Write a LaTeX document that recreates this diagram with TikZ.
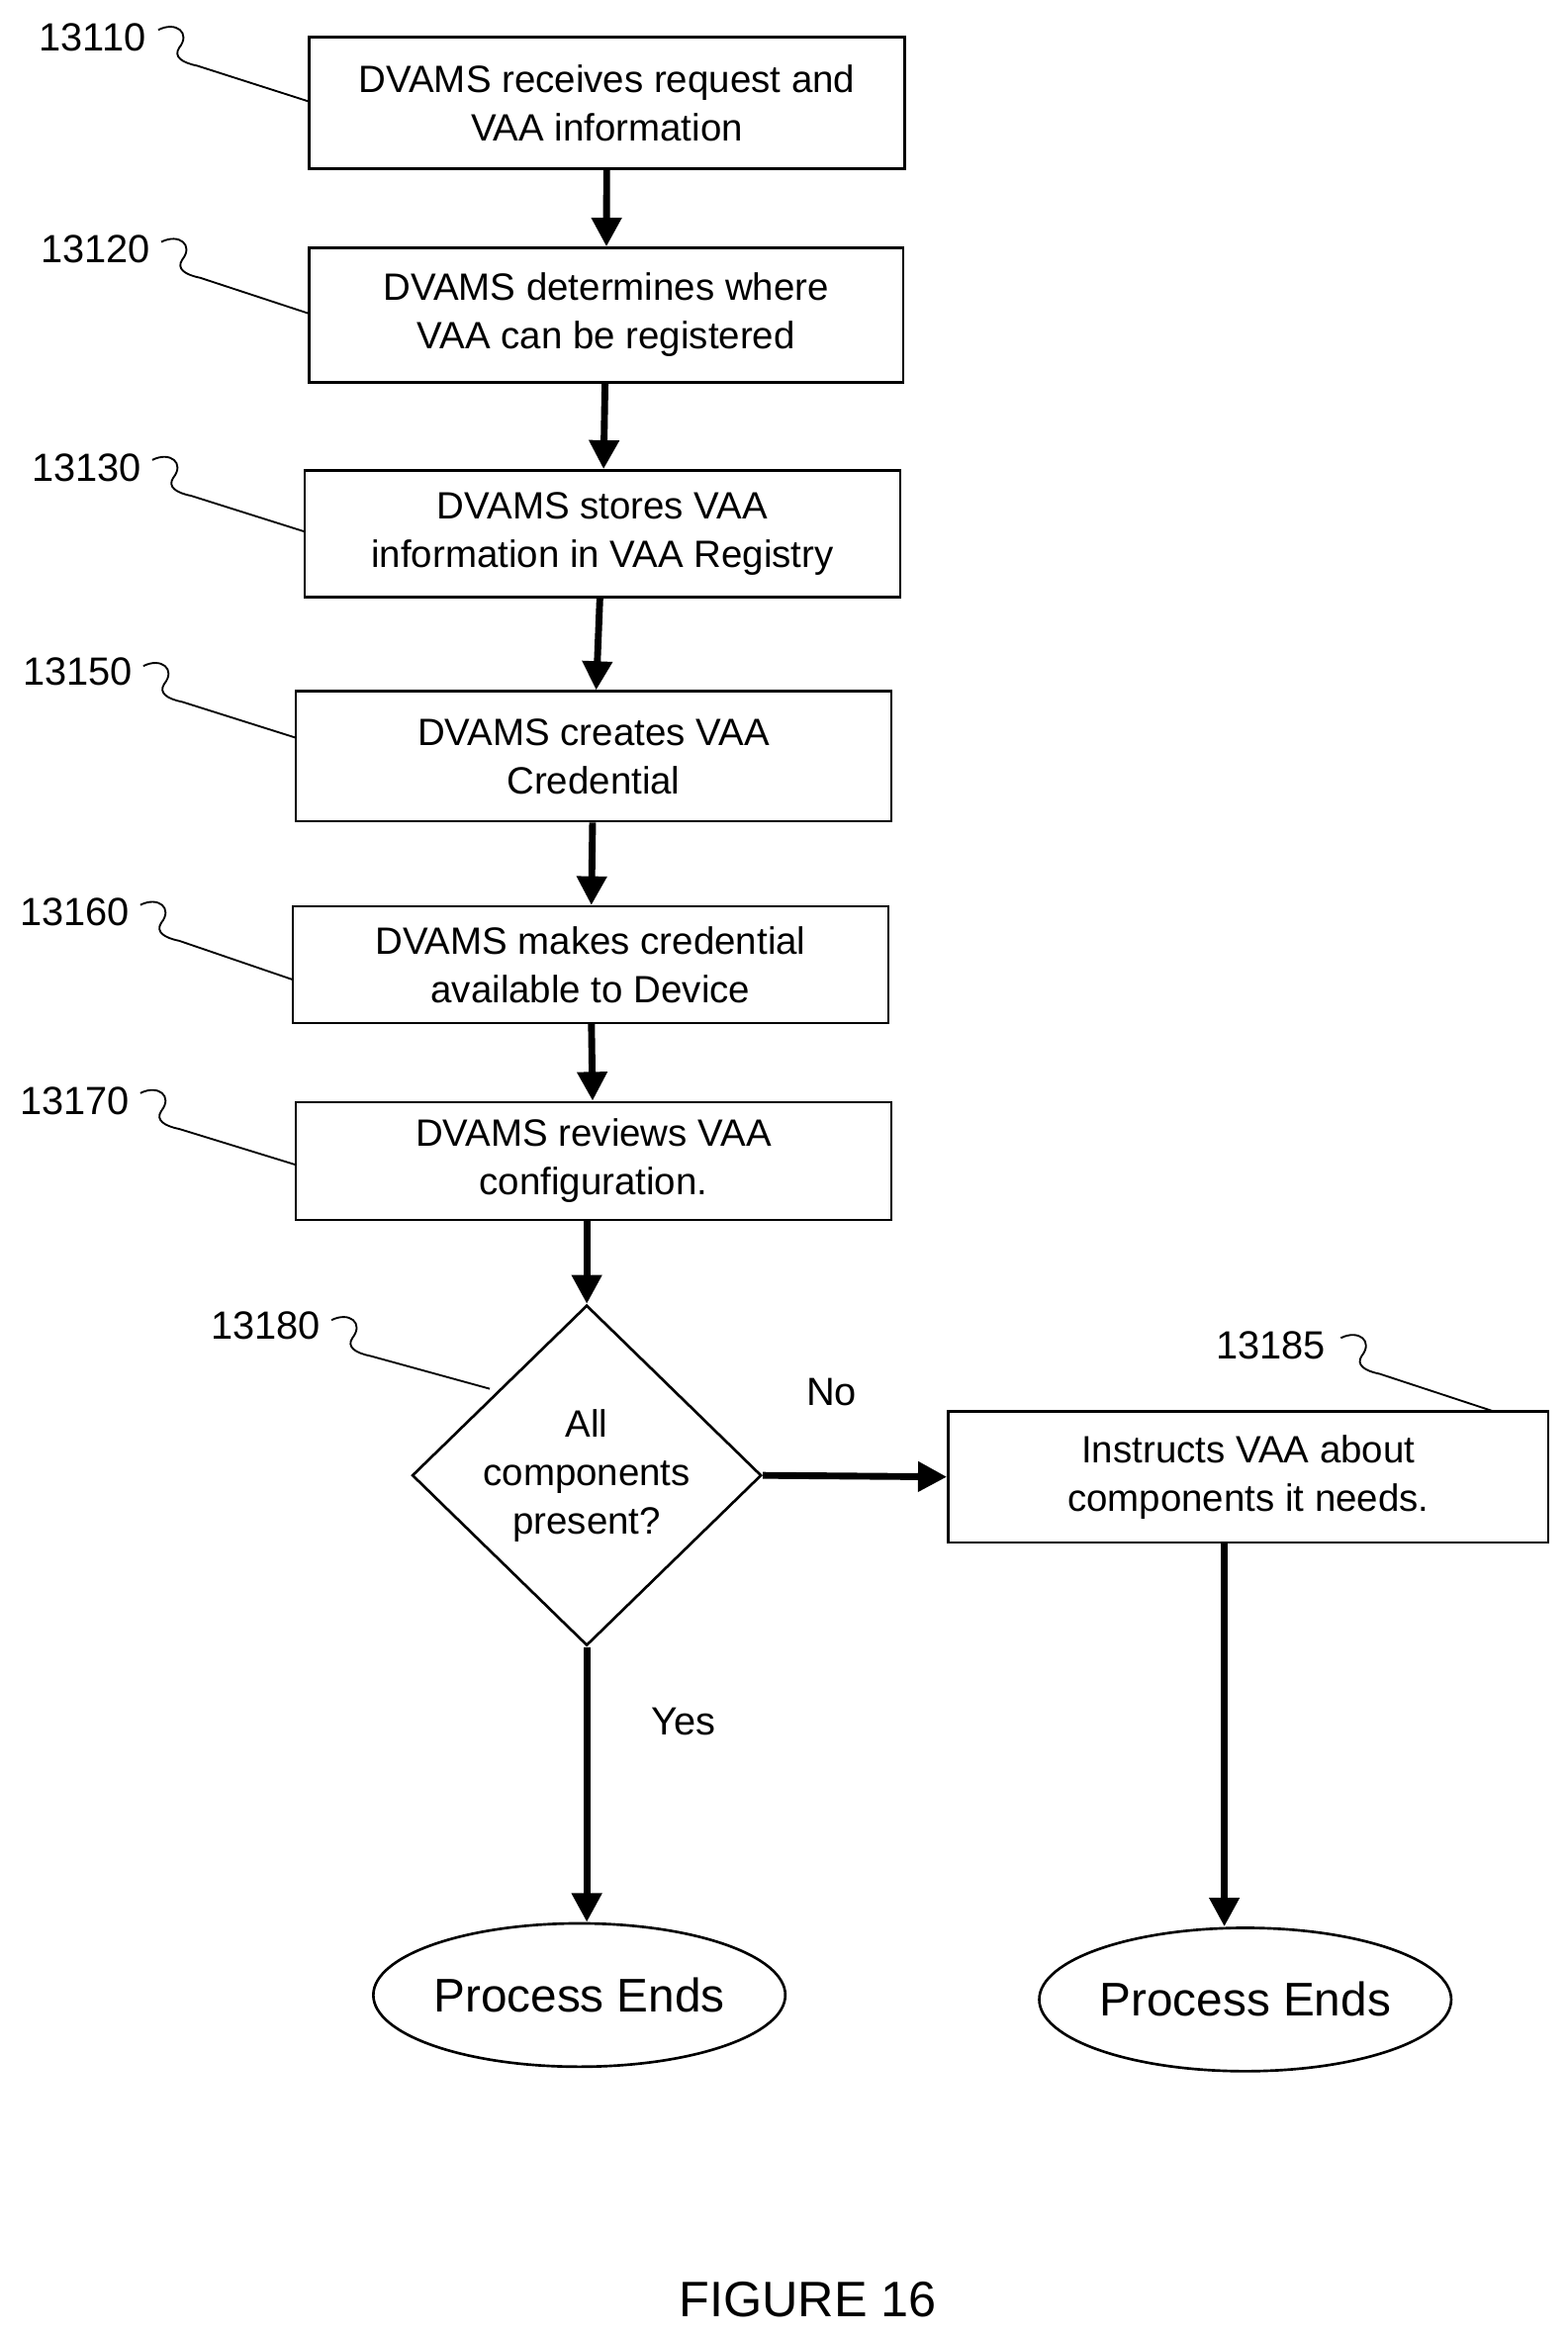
\documentclass[tikz,border=0pt]{standalone}
\usepackage{fontspec}
\setmainfont{Liberation Sans}
\usetikzlibrary{shapes.geometric,arrows.meta}
\begin{document}
\begin{tikzpicture}[x=0.02cm,y=-0.02cm,
 box/.style={draw,line width=1pt,inner sep=0pt,align=center,font=\fontsize{14.5}{18.5}\selectfont},
 arr/.style={line width=2.6pt,-{Triangle[length=11pt,width=11pt]}},
 lab/.style={font=\fontsize{15}{18}\selectfont},
 sq/.style={line width=0.7pt}]
\useasboundingbox (0,0) rectangle (1050,1565);
\node[box,minimum width=399\pgflinewidth*0+7.98cm,minimum height=1.76cm] (b1) at (406.5,69) {DVAMS receives request and\\VAA information};
\node[box,minimum width=7.96cm,minimum height=1.8cm] (b2) at (406,211) {DVAMS determines where\\VAA can be registered};
\node[box,minimum width=7.98cm,minimum height=1.7cm] (b3) at (403.5,357.5) {DVAMS stores VAA\\information in VAA Registry};
\node[box,minimum width=7.98cm,minimum height=1.74cm] (b4) at (397.5,506.5) {DVAMS creates VAA\\Credential};
\node[box,minimum width=7.98cm,minimum height=1.56cm] (b5) at (395.5,646) {DVAMS makes credential\\available to Device};
\node[box,minimum width=7.98cm,minimum height=1.58cm] (b6) at (397.5,777.5) {DVAMS reviews VAA\\configuration.};
\node[box,diamond,minimum width=4.68cm,minimum height=4.56cm,aspect=1.03] (d) at (393,988) {All\\components\\present?};
\node[box,minimum width=8.04cm,minimum height=1.76cm] (b7) at (836,989) {Instructs VAA about\\components it needs.};
\node[box,ellipse,minimum width=5cm,minimum height=1.92cm,font=\fontsize{18}{22}\selectfont] (e1) at (388,1336) {Process Ends};
\node[box,ellipse,minimum width=5.06cm,minimum height=1.92cm,font=\fontsize{18}{22}\selectfont] (e2) at (834,1339) {Process Ends};
\draw[arr] (b1) -- (b2);
\draw[arr] (b2) -- (b3);
\draw[arr] (b3) -- (b4);
\draw[arr] (b4) -- (b5);
\draw[arr] (b5) -- (b6);
\draw[arr] (b6.south -| d.north) -- (d.north);
\draw[arr] (d.east) -- (b7.west);
\draw[arr] (d.south) -- (e1.north -| d.south);
\draw[arr] (b7.south -| 820,0) -- (e2.north -| 820,0);
\node[lab] (n1) at (62,25) {13110};
\node[lab] (n2) at (64,167) {13120};
\node[lab] (n3) at (58,313) {13130};
\node[lab] (n4) at (52,450) {13150};
\node[lab] (n5) at (50,611) {13160};
\node[lab] (n6) at (50,737) {13170};
\node[lab] (n7) at (178,888) {13180};
\node[lab] (n8) at (851,901) {13185};
\foreach \n/\xa/\ya/\xb/\yb in {n1/106/20/207/68, n2/108/162/207/210, n3/102/308/204/356, n4/96/446/198/494, n5/94/606/196/656, n6/94/732/198/780, n7/222/884/328/930} {
 \draw[sq] (\xa,\ya) .. controls (\xa+12,\ya-6) and (\xa+22,\ya+2) .. (\xa+14,\ya+12) .. controls (\xa+10,\ya+18) and (\xa+16,\ya+22) .. (\xa+26,\ya+24) -- (\xb,\yb);
}
\draw[sq] (898,896) .. controls (910,890) and (920,898) .. (912,908) .. controls (908,914) and (914,918) .. (924,920) -- (1000,945);
\node[lab] (no) at (557,932) {No};
\node[lab] (yes) at (458,1153) {Yes};
\node[font=\fontsize{19}{22}\selectfont] (fig) at (541,1540) {FIGURE 16};
\end{tikzpicture}
\end{document}
